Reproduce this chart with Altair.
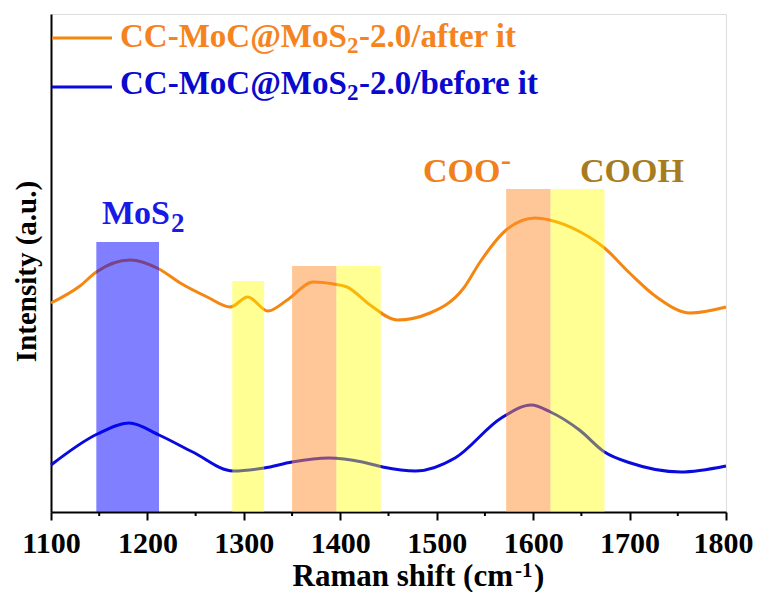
import altair as alt
import pandas as pd

FONT = "Liberation Serif"

# ---- data ----
raman_after = [1100, 1130, 1147, 1182, 1212, 1234, 1262, 1286, 1304, 1325, 1345, 1372, 1393,
               1407, 1431, 1459, 1493, 1528, 1545, 1572, 1602, 1617, 1649, 1674, 1700, 1728,
               1763, 1800]
int_after = [209, 226, 240, 252, 243, 229, 215, 205, 215, 201, 212, 230, 228,
             225, 207, 192, 199, 224, 250, 282, 294, 292, 280, 264, 239, 215,
             199, 205]

raman_before = [1100, 1148, 1181, 1212, 1247, 1289, 1321, 1350, 1388, 1423, 1444, 1478,
                1519, 1567, 1598, 1618, 1648, 1674, 1701, 1753, 1800]
int_before = [47, 78, 89, 77, 60, 41, 44, 50, 54, 50, 45, 41,
              54, 94, 107, 100, 82, 60, 49, 40, 46]

band_start = [1147, 1288, 1350, 1396, 1572, 1618]
band_end = [1212, 1321, 1396, 1442, 1618, 1674]
band_top = [270, 231, 246, 246, 323, 323]
band_color = ["#0000FF", "#FFFF00", "#FF9030", "#FFFF00", "#FF9030", "#FFFF00"]
band_alpha = [0.5, 0.42, 0.5, 0.42, 0.5, 0.42]

major_ticks = [1100, 1200, 1300, 1400, 1500, 1600, 1700, 1800]
minor_ticks = [1150, 1250, 1350, 1450, 1550, 1650, 1750]

W, H = 675, 498
xs = alt.Scale(domain=[1100, 1800], nice=False, zero=False)
ys = alt.Scale(domain=[0, 498], nice=False, zero=False)

after_df = pd.DataFrame({"x": raman_after, "y": int_after})
before_df = pd.DataFrame({"x": raman_before, "y": int_before})
band_df = pd.DataFrame({"x": band_start, "x2": band_end, "top": band_top,
                        "c": band_color, "a": band_alpha, "base": [0] * len(band_start)})
minor_df = pd.DataFrame({"x": minor_ticks})

x_axis = alt.Axis(values=major_ticks, format="d", tickSize=8, tickWidth=2, tickColor="black",
                  domainColor="black", domainWidth=2, labelFont=FONT, labelFontSize=30,
                  labelFontWeight="bold", labelColor="black", labelPadding=8,
                  labelOffset={"expr": "datum.value == 1800 ? -3 : 0"},
                  labelFlush=False, grid=False, title=None)
y_axis = alt.Axis(ticks=False, labels=False, grid=False, domainColor="black", domainWidth=2,
                  title="Intensity (a.u.)", titleFont=FONT, titleFontSize=29,
                  titleFontWeight="bold", titleColor="black", titleAngle=270,
                  titleX=-16, titleY=257, titleAlign="center", titleBaseline="alphabetic")

line_after = alt.Chart(after_df).mark_line(interpolate="monotone", strokeWidth=3,
                                           color="#F5860F").encode(
    x=alt.X("x:Q", scale=xs, axis=x_axis), y=alt.Y("y:Q", scale=ys, axis=y_axis))
line_before = alt.Chart(before_df).mark_line(interpolate="monotone", strokeWidth=3,
                                             color="#0A0ADC").encode(
    x=alt.X("x:Q", scale=xs), y=alt.Y("y:Q", scale=ys))

bands = alt.Chart(band_df).mark_rect().encode(
    x=alt.X("x:Q", scale=xs), x2="x2:Q",
    y=alt.Y("top:Q", scale=ys), y2="base:Q",
    color=alt.Color("c:N", scale=None), opacity=alt.Opacity("a:Q", scale=None))

minor = alt.Chart(minor_df).mark_rule(color="black", strokeWidth=2).encode(
    x=alt.X("x:Q", scale=xs), y=alt.value(H), y2=alt.value(H + 4))

dummy = alt.Data(values=[{"k": 0}])


def label(text, x, y, size, color, align="left"):
    return alt.Chart(dummy).mark_text(text=text, font=FONT, fontWeight="bold", fontSize=size,
                                      color=color, align=align, baseline="alphabetic").encode(
        x=alt.value(x), y=alt.value(y))


def legend_rule(y, color):
    return alt.Chart(dummy).mark_rule(color=color, strokeWidth=3).encode(
        x=alt.value(1), x2=alt.value(61), y=alt.value(y))


ORANGE_T = "#F5841F"
BLUE_T = "#0A0ACF"
texts = [
    legend_rule(24, "#F5860F"), legend_rule(73, "#0A0ADC"),
    label("CC-MoC@MoS", 69, 33, 33, ORANGE_T), label("2", 296, 39, 23, ORANGE_T),
    label("-2.0/after it", 308, 33, 33, ORANGE_T),
    label("CC-MoC@MoS", 69, 80, 33, BLUE_T), label("2", 296, 86, 23, BLUE_T),
    label("-2.0/before it", 308, 80, 33, BLUE_T),
    label("MoS", 51, 210, 34, "#1A1AE6"), label("2", 120, 218, 27, "#1A1AE6"),
    label("COO", 372, 168, 34, "#F0801A"), label("-", 450, 156, 30, "#F0801A"),
    label("COOH", 529, 168, 34, "#A67C1E"),
    label("Raman shift (cm", 462, 572, 31, "black", align="right"),
    label("-1", 464, 563, 21, "black"),
    label(")", 483, 572, 31, "black"),
]

chart = alt.layer(line_after, line_before, bands, minor, *texts).properties(
    width=W, height=H, padding={"left": 43, "top": 6, "right": 28, "bottom": 80},
    autosize=alt.AutoSizeParams(type="none")
).configure_view(stroke="#555555", strokeWidth=2).configure(background="white")

chart.save("out.html", embed_options={"renderer": "svg", "actions": False})
